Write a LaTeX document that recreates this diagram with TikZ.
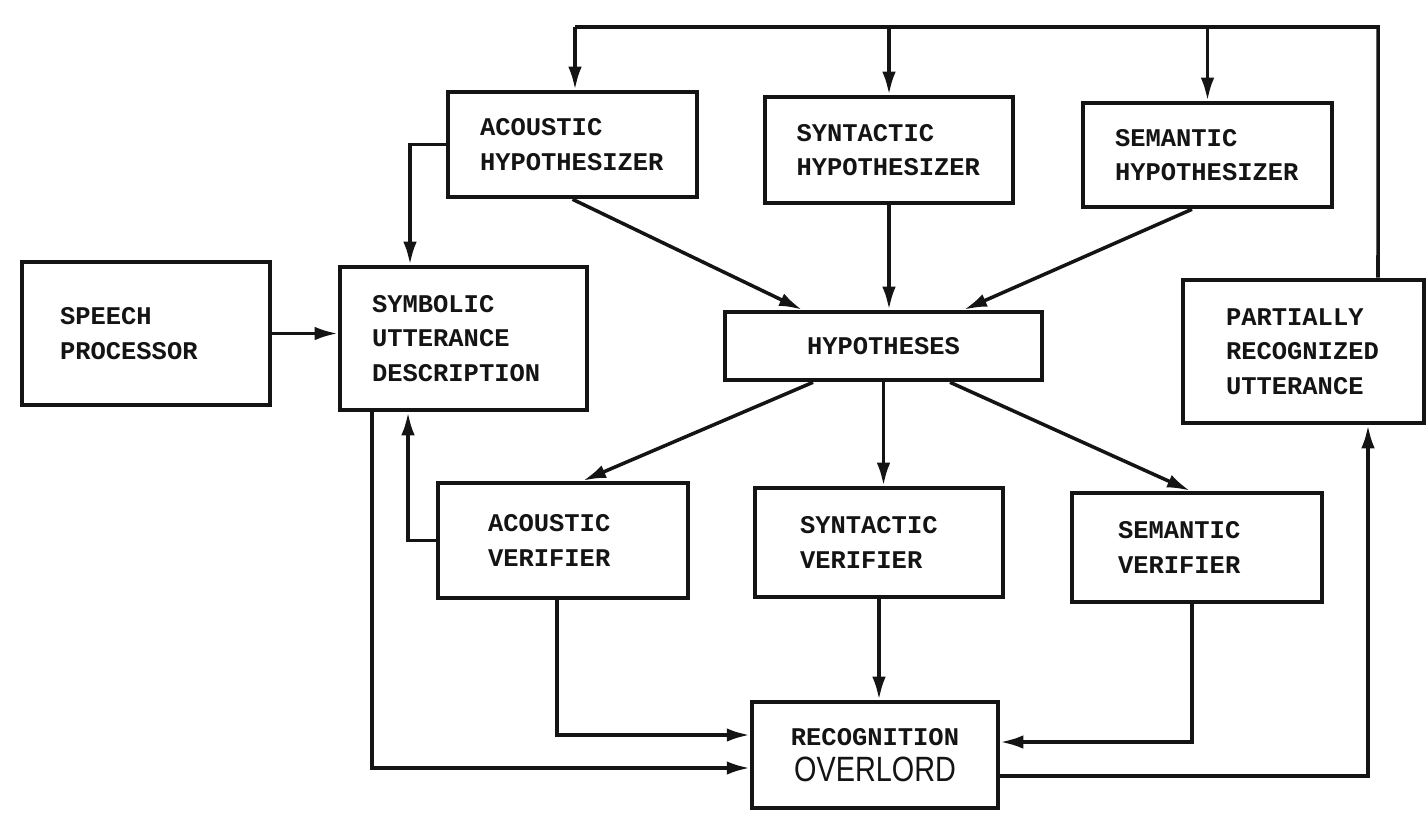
\documentclass[tikz,border=0pt]{standalone}
\usepackage{fontspec}
\setmonofont{Liberation Mono}
\newfontfamily\ovlfont[FakeStretch=0.82]{Liberation Sans}
\usepackage{tikz}
\usepackage{xcolor}
\usetikzlibrary{arrows.meta}
\usetikzlibrary{positioning}

\begin{document}
\begin{tikzpicture}[x={0.02cm}, y={-0.02cm},
		blk/.style={draw=INK, line width={2.6pt}, inner sep=0pt, align=left,
			font={\ttfamily\bfseries\fontsize{14.5}{19.5}\selectfont}, text=INK},
		ln/.style={draw=INK, line width={2pt}},
		arw/.style={ln, -{Latex[length={0.46cm}, width={0.27cm}]}}]
				\definecolor{INK}{RGB}{20, 20, 20}
				\definecolor{PAPER}{RGB}{255, 255, 255}
				\useasboundingbox[fill={PAPER}] (0, 0) rectangle (1426, 812);

				% boxes
				\node[blk, minimum width={4.96cm}, minimum height={2.86cm}, text width={3.44cm}] (sp) at (146, 333.5)
					{SPEECH\\PROCESSOR};
				\node[blk, minimum width={4.94cm}, minimum height={2.86cm}, text width={3.66cm}] (sym) at (463.5, 338.5)
					{SYMBOLIC\\UTTERANCE\\DESCRIPTION};
				\node[blk, minimum width={4.98cm}, minimum height={2.1cm}, text width={3.7cm}] (ahyp) at (572.5, 144.5)
					{ACOUSTIC\\HYPOTHESIZER};
				\node[blk, minimum width={4.96cm}, minimum height={2.12cm}, text width={3.7cm}] (shyp) at (889, 150)
					{SYNTACTIC\\HYPOTHESIZER};
				\node[blk, minimum width={4.98cm}, minimum height={2.08cm}, text width={3.7cm}] (mhyp) at (1207.5, 155)
					{SEMANTIC\\HYPOTHESIZER};
				\node[blk, minimum width={6.34cm}, minimum height={1.36cm}, align=center] (hyp) at (883.5, 346)
					{HYPOTHESES};
				\node[blk, minimum width={4.82cm}, minimum height={2.86cm}, text width={3.1cm}] (pru) at (1303.5, 351.5)
					{PARTIALLY\\RECOGNIZED\\UTTERANCE};
				\node[blk, minimum width={5.0cm}, minimum height={2.3cm}, text width={3.0cm}] (aver) at (563, 540.5)
					{ACOUSTIC\\VERIFIER};
				\node[blk, minimum width={4.96cm}, minimum height={2.18cm}, text width={3.16cm}] (sver) at (879, 542.5)
					{SYNTACTIC\\VERIFIER};
				\node[blk, minimum width={5.0cm}, minimum height={2.18cm}, text width={3.16cm}] (mver) at (1197, 547.5)
					{SEMANTIC\\VERIFIER};
				\node[blk, minimum width={4.92cm}, minimum height={2.12cm}, align=center] (ovl) at (875, 755)
					{RECOGNITION\\[1pt]{\ovlfont\mdseries\fontsize{20}{22}\selectfont OVERLORD}};

				% feedback loop over the top
				\coordinate (loopR) at (1378, 27);
				\coordinate (loopL) at (575, 27);
				\draw[ln] ([xshift={1.49cm}]pru.north) -- (loopR) -- (loopL);
				\draw[arw] (loopL) -- (ahyp.north -| loopL);
				\draw[arw] (shyp.north |- loopL) -- (shyp.north);
				\draw[arw] (mhyp.north |- loopL) -- (mhyp.north);

				% into the symbolic description
				\draw[arw] (ahyp.west) -| ([xshift={-1.07cm}]sym.north);
				\draw[arw] (sp.east) -- (sp.east -| sym.west);
				\draw[arw] (aver.west) -| ([xshift={-1.11cm}]sym.south);

				% hypothesizers to hypotheses
				\draw[arw] (ahyp.south) -- ([xshift={-1.63cm}]hyp.north);
				\draw[arw] (shyp.south) -- (shyp.south |- hyp.north);
				\draw[arw] ([xshift={-0.31cm}]mhyp.south) -- ([xshift={1.61cm}]hyp.north);

				% hypotheses to verifiers
				\draw[arw] ([xshift={-1.41cm}]hyp.south) -- ([xshift={0.4cm}]aver.north);
				\draw[arw] (hyp.south) -- (hyp.south |- sver.north);
				\draw[arw] ([xshift={1.33cm}]hyp.south) -- ([xshift={-0.14cm}]mver.north);

				% into and out of the overlord
				\draw[arw] ([xshift={-1.83cm}]sym.south) |- ([yshift={-0.26cm}]ovl.west);
				\draw[arw] ([xshift={-0.12cm}]aver.south) |- ([yshift={0.4cm}]ovl.west);
				\draw[arw] (sver.south) -- (sver.south |- ovl.north);
				\draw[arw] ([xshift={-0.1cm}]mver.south) |- ([yshift={0.26cm}]ovl.east);
				\draw[arw] ([yshift={-0.42cm}]ovl.east) -| ([xshift={1.29cm}]pru.south);
			\end{tikzpicture}
\end{document}
